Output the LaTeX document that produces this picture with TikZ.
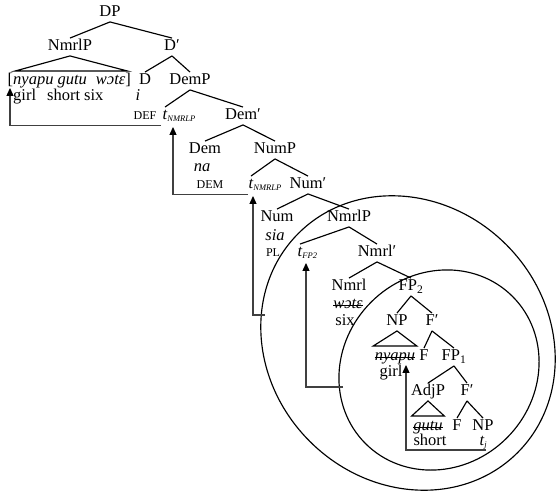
\documentclass[tikz,border=0pt]{standalone}
\usepackage{fontspec}
\setmainfont{Liberation Serif}
\usetikzlibrary{arrows.meta}
\newcommand\tsub[1]{\raisebox{-2pt}{\fontsize{8.5}{9}\selectfont\itshape #1}}
\newcommand\smc[1]{{\fontsize{12}{13}\selectfont #1}}
\begin{document}
\begin{tikzpicture}[x=1pt,y=-1pt,
  every node/.style={font=\fontsize{16.5}{18}\selectfont, inner sep=1.5pt, text height=11pt, text depth=3.5pt},
  br/.style={line width=1.15pt},
  ell/.style={line width=1.15pt},
  strike/.style={line width=0.8pt},
  mv/.style={draw=black!75, line width=1.1pt, -{Triangle[length=8pt,width=7pt,fill=black,color=black]}},
  ]
\useasboundingbox (0,0) rectangle (559,494);
% nodes
\node (dp) at (110,13) {DP};
\node (nmrlp) at (70,47) {NmrlP};
\node (dbar) at (172,47) {D′};
\node[anchor=west] (br) at (6,81) {[\textit{nyapu gutu}\hspace{9pt}\textit{wɔtɛ}]};
\node[anchor=west] (gl) at (11.5,97) {girl\hspace{11pt}short six};
\node (d) at (145,81) {D};
\node (di) at (138,97) {\textit{i}};
\node (def) at (145,116) {\smc{DEF}};
\node (demp) at (190,81) {DemP};
\node (t1) at (165,116) {\textit{t}\rlap{\tsub{NMRLP}}};
\node (dembar) at (243,116) {Dem′};
\node (dem) at (205,150) {Dem};
\node (na) at (202,168) {\textit{na}};
\node (demg) at (210,185) {\smc{DEM}};
\node (nump) at (275,150) {NumP};
\node (t2) at (251,185) {\textit{t}\rlap{\tsub{NMRLP}}};
\node (numbar) at (308,185) {Num′};
\node (num) at (277,218) {Num};
\node (sia) at (275,237) {\textit{sia}};
\node (pl) at (273,253) {\smc{PL}};
\node (nmrlp2) at (349,218) {NmrlP};
\node (tfp) at (300,253) {\textit{t}\rlap{\tsub{FP2}}};
\node (nmrlbar) at (377,253) {Nmrl′};
\node (nmrl) at (349,287) {Nmrl};
\node (wote) at (348,305) {\textit{wɔtɛ}};
\node (six) at (345,322) {six};
\node (fp2) at (411,287) {FP\textsubscript{2}};
\node (np1) at (397,322) {NP};
\node (fbar1) at (432,322) {F′};
\node (nyapu) at (395,357) {\textit{nyapu}};
\node (f1) at (424,357) {F};
\node (fp1) at (454,357) {FP\textsubscript{1}};
\node (girl) at (391,373) {girl};
\node (adjp) at (428,392) {AdjP};
\node (fbar2) at (467,392) {F′};
\node (gutu) at (428,427) {\textit{gutu}};
\node (f2) at (457,427) {F};
\node (np2) at (483,427) {NP};
\node (short) at (430,442) {short};
\node (tj) at (482,442) {\textit{t}\rlap{\tsub{j}}};
% strike-through
\draw[strike] ([xshift=1.5pt]wote.west) -- ([xshift=-1.5pt]wote.east);
\draw[strike] ([xshift=1.5pt]nyapu.west) -- ([xshift=-1.5pt]nyapu.east);
\draw[strike] ([xshift=1.5pt]gutu.west) -- ([xshift=-1.5pt]gutu.east);
% tree edges
\draw[br] (dp.south) -- (nmrlp.north);
\draw[br] (dp.south) -- (dbar.north);
\draw[br] (nmrlp.south) -- ([xshift=9pt,yshift=1pt]br.north west) -- ([xshift=-5pt,yshift=1pt]br.north east) -- cycle;
\draw[br] (dbar.south) -- (d.north);
\draw[br] (dbar.south) -- (demp.north);
\draw[br] (demp.south) -- (t1.north);
\draw[br] (demp.south) -- (dembar.north);
\draw[br] (dembar.south) -- (dem.north);
\draw[br] (dembar.south) -- (nump.north);
\draw[br] (nump.south) -- (t2.north);
\draw[br] (nump.south) -- (numbar.north);
\draw[br] (numbar.south) -- (num.north);
\draw[br] (numbar.south) -- (nmrlp2.north);
\draw[br] (nmrlp2.south) -- (tfp.north);
\draw[br] (nmrlp2.south) -- (nmrlbar.north);
\draw[br] (nmrlbar.south) -- (nmrl.north);
\draw[br] (nmrlbar.south) -- (fp2.north);
\draw[br] (fp2.south) -- (np1.north);
\draw[br] (fp2.south) -- (fbar1.north);
\draw[br] (np1.south) -- ([yshift=2pt]nyapu.north west) -- ([yshift=2pt]nyapu.north east) -- cycle;
\draw[br] (fbar1.south) -- (f1.north);
\draw[br] (fbar1.south) -- (fp1.north);
\draw[br] (fp1.south) -- (adjp.north);
\draw[br] (fp1.south) -- (fbar2.north);
\draw[br] (adjp.south) -- ([yshift=2pt]gutu.north west) -- ([yshift=2pt]gutu.north east) -- cycle;
\draw[br] (fbar2.south) -- (f2.north);
\draw[br] (fbar2.south) -- (np2.north);
% ellipses
\coordinate (oc) at (408,343);
\coordinate (ic) at (439,370);
\draw[ell, rotate around={-45:(oc)}] (oc) ellipse [x radius=155pt, y radius=139pt];
\draw[ell, rotate around={45:(ic)}] (ic) ellipse [x radius=104pt, y radius=96pt];
\coordinate (oe) at (265,315);
\coordinate (ie) at (343,387);
% movement
\draw[mv] ([xshift=-4pt,yshift=-1pt]t1.south) -| ([xshift=4pt,yshift=2pt]br.south west);
\draw[mv] ([xshift=-3pt,yshift=-1pt]t2.south) -| ([xshift=8pt,yshift=-2pt]t1.south);
\draw[mv] (oe) -| ([xshift=2pt,yshift=-2pt]t2.south);
\draw[mv] (ie) -| ([xshift=6pt,yshift=-1pt]tfp.south);
\draw[mv] ([xshift=4pt,yshift=1pt]tj.south) -| ([xshift=11pt,yshift=1pt]nyapu.south);
\end{tikzpicture}
\end{document}
